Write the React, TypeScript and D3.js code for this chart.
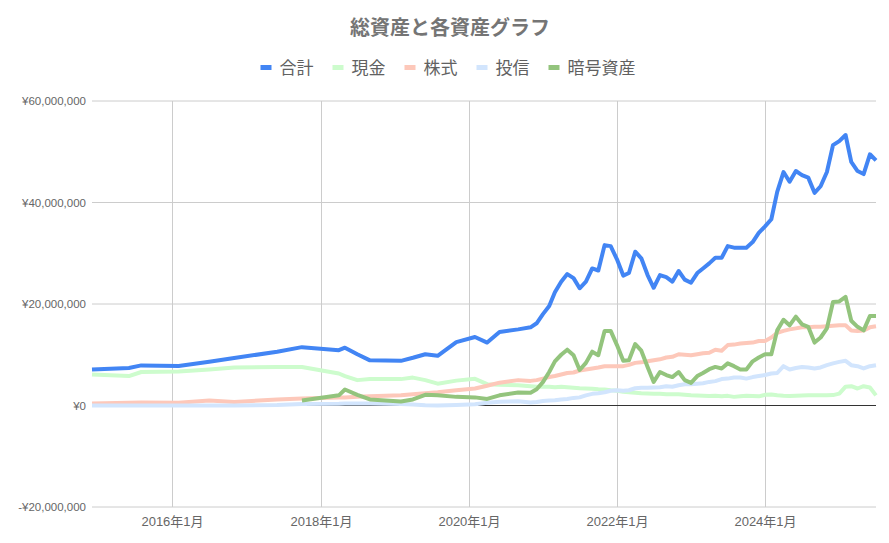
import React, { useEffect, useRef } from 'react';
import * as d3 from 'd3';

// months (sparse until late 2020, then monthly)
const months = [
  '2014-12', '2015-06', '2015-08', '2016-02', '2016-07', '2016-11', '2017-06', '2017-10',
  '2018-04', '2018-05', '2018-07', '2018-09', '2019-02', '2019-04', '2019-06', '2019-08',
  '2019-11', '2020-02', '2020-04', '2020-06', '2020-09', '2020-11', '2020-12',
  '2021-01', '2021-02', '2021-03', '2021-04', '2021-05', '2021-06', '2021-07', '2021-08', '2021-09', '2021-10', '2021-11', '2021-12',
  '2022-01', '2022-02', '2022-03', '2022-04', '2022-05', '2022-06', '2022-07', '2022-08', '2022-09', '2022-10', '2022-11', '2022-12',
  '2023-01', '2023-02', '2023-03', '2023-04', '2023-05', '2023-06', '2023-07', '2023-08', '2023-09', '2023-10', '2023-11', '2023-12',
  '2024-01', '2024-02', '2024-03', '2024-04', '2024-05', '2024-06', '2024-07', '2024-08', '2024-09', '2024-10', '2024-11', '2024-12',
  '2025-01', '2025-02', '2025-03', '2025-04', '2025-05', '2025-06', '2025-07',
];

// values in millions of yen
const total = [
  7.1, 7.4, 7.9, 7.8, 8.6, 9.35, 10.6, 11.5, 10.9, 11.4, 10.1, 8.9, 8.8, 9.4, 10.1, 9.8, 12.5, 13.5, 12.4, 14.5, 15.0, 15.4, 16.2,
  18.0, 19.6, 22.3, 24.4, 25.9, 25.1, 23.1, 24.4, 27.0, 26.6, 31.6, 31.4,
  28.8, 25.6, 26.1, 30.3, 29.0, 25.7, 23.2, 25.7, 25.3, 24.4, 26.5, 24.8,
  24.2, 26.1, 27.0, 28.0, 29.1, 29.1, 31.4, 31.1, 31.1, 31.1, 32.2, 34.0,
  35.3, 36.7, 42.1, 46.0, 44.1, 46.2, 45.4, 44.9, 41.9, 43.2, 46.0, 51.3,
  52.1, 53.3, 48.0, 46.2, 45.6, 49.5, 48.3,
];
const cash = [
  6.1, 5.8, 6.6, 6.7, 7.1, 7.5, 7.6, 7.6, 6.3, 5.8, 5.0, 5.2, 5.2, 5.5, 5.0, 4.3, 4.9, 5.25, 4.2, 4.1, 4.0, 3.8, 3.7,
  3.7, 3.7, 3.6, 3.7, 3.6, 3.5, 3.4, 3.35, 3.3, 3.2, 3.15, 3.0,
  2.9, 2.7, 2.6, 2.5, 2.4, 2.35, 2.3, 2.3, 2.2, 2.2, 2.2, 2.1,
  2.0, 1.95, 1.9, 1.85, 1.9, 1.8, 1.9, 1.7, 1.8, 1.9, 1.85, 1.8,
  2.1, 2.15, 2.0, 1.9, 1.85, 1.9, 1.95, 2.0, 2.0, 2.0, 2.0, 2.05,
  2.35, 3.7, 3.8, 3.35, 3.8, 3.55, 2.0,
];
const stocks = [
  0.4, 0.55, 0.6, 0.55, 1.0, 0.7, 1.2, 1.4, 1.6, 1.6, 1.7, 1.8, 2.0, 2.2, 2.4, 2.6, 3.0, 3.35, 3.9, 4.5, 5.0, 4.85, 5.0,
  5.3, 5.6, 5.8, 6.1, 6.4, 6.5, 6.9, 7.1, 7.3, 7.5, 7.75, 7.75,
  7.75, 7.75, 8.0, 8.4, 8.5, 8.7, 8.9, 9.1, 9.45, 9.6, 10.1, 10.0,
  9.9, 10.1, 10.3, 10.4, 11.0, 10.8, 11.9, 12.0, 12.2, 12.3, 12.4, 12.7,
  12.7, 13.4, 14.3, 14.7, 15.0, 15.2, 15.4, 15.4, 15.5, 15.5, 15.6, 15.7,
  15.8, 15.8, 14.8, 14.7, 14.8, 15.4, 15.6,
];
const funds = [
  0, 0, 0, 0, 0, 0, 0.1, 0.3, 0.35, 0.4, 0.4, 0.4, 0.3, 0.2, 0.05, 0, 0.1, 0.25, 0.55, 0.75, 0.85, 0.6, 0.7,
  0.9, 1.0, 1.05, 1.2, 1.3, 1.5, 1.6, 2.0, 2.3, 2.4, 2.6, 2.9,
  3.0, 2.9, 3.0, 3.4, 3.5, 3.5, 3.55, 3.6, 3.8, 3.7, 4.0, 4.2,
  4.2, 4.3, 4.4, 4.65, 4.8, 5.2, 5.3, 5.5, 5.5, 5.3, 5.6, 5.8,
  6.0, 6.3, 6.4, 7.75, 7.1, 7.4, 7.6, 7.5, 7.3, 7.5, 7.95, 8.3,
  8.6, 8.8, 7.95, 7.75, 7.3, 7.75, 7.95,
];
const crypto = [
  null, null, null, null, null, null, null, 1.0, 2.0, 3.15, 2.1, 1.2, 0.8, 1.2, 2.1, 2.0, 1.7, 1.6, 1.3, 2.0, 2.55, 2.5, 3.2,
  4.6, 6.6, 8.7, 10.0, 11.0, 9.9, 7.0, 8.4, 10.6, 9.9, 14.7, 14.7,
  11.9, 8.8, 8.9, 12.1, 10.8, 7.6, 4.65, 6.6, 6.0, 5.6, 6.6, 5.0,
  4.45, 5.8, 6.4, 7.15, 7.6, 7.3, 8.3, 7.75, 7.1, 7.1, 8.7, 9.45,
  10.1, 10.1, 14.8, 16.9, 15.8, 17.5, 16.0, 15.5, 12.4, 13.4, 15.2, 20.4,
  20.5, 21.4, 16.7, 15.5, 14.8, 17.65, 17.65,
];

const seriesNames = ['合計', '現金', '株式', '投信', '暗号資産'];
const seriesColors = ['#4285f4', '#cdfccd', '#fdc8ba', '#d2e5fd', '#93c47d'];
const seriesValues = [total, cash, stocks, funds, crypto];

const yTicks = [-20000000, 0, 20000000, 40000000, 60000000];
const xTickMonths = ['2016-01', '2018-01', '2020-01', '2022-01', '2024-01'];

const W = 889;
const H = 543;
const jp = '"Noto Sans CJK JP", "Liberation Sans", sans-serif';
const num = '"Liberation Sans", Arial, "Noto Sans CJK JP", sans-serif';

function App(): JSX.Element {
  const svgRef = useRef<SVGSVGElement>(null);

  useEffect(() => {
    const svg = d3.select(svgRef.current);
    svg.selectAll('*').remove();

    const parse = d3.timeParse('%Y-%m');
    const dates = months.map(m => parse(m) as Date);

    const xScale = d3.scaleTime()
      .domain([parse('2014-12') as Date, parse('2025-07') as Date])
      .range([92, 876]);
    const yScale = d3.scaleLinear()
      .domain([-20000000, 60000000])
      .range([507, 101]);

    // title
    svg.append('text')
      .attr('x', 450)
      .attr('y', 35)
      .attr('text-anchor', 'middle')
      .attr('font-family', jp)
      .attr('font-weight', 'bold')
      .attr('font-size', 20)
      .attr('fill', '#757575')
      .text('総資産と各資産グラフ');

    // legend, centered
    const fs = 17;
    const widths = seriesNames.map(n => 19 + n.length * fs);
    const legendW = d3.sum(widths) + 19 * (seriesNames.length - 1);
    let lx = 448 - legendW / 2;
    seriesNames.forEach((n, i) => {
      svg.append('rect')
        .attr('x', lx)
        .attr('y', 65)
        .attr('width', 11)
        .attr('height', 5)
        .attr('fill', seriesColors[i]);
      svg.append('text')
        .attr('x', lx + 19)
        .attr('y', 74)
        .attr('font-family', jp)
        .attr('font-size', fs)
        .attr('fill', '#616161')
        .text(n);
      lx += widths[i] + 19;
    });

    // horizontal gridlines + y labels
    const fmt = d3.format(',');
    yTicks.forEach(t => {
      svg.append('line')
        .attr('x1', 92).attr('x2', 876)
        .attr('y1', yScale(t)).attr('y2', yScale(t))
        .attr('stroke', t === 0 ? 'none' : '#cccccc')
        .attr('stroke-width', 1);
      svg.append('text')
        .attr('x', 86)
        .attr('y', yScale(t) + 4)
        .attr('text-anchor', 'end')
        .attr('font-family', num)
        .attr('font-size', 11.5)
        .attr('fill', '#666666')
        .text((t < 0 ? '-¥' : '¥') + fmt(Math.abs(t)));
    });

    // vertical gridlines + x labels
    xTickMonths.forEach(m => {
      const d = parse(m) as Date;
      const x = Math.round(xScale(d)) + 0.5;
      svg.append('line')
        .attr('x1', x).attr('x2', x)
        .attr('y1', 101).attr('y2', 507)
        .attr('stroke', '#cccccc')
        .attr('stroke-width', 1);
      svg.append('text')
        .attr('x', x)
        .attr('y', 526)
        .attr('text-anchor', 'middle')
        .attr('font-family', num)
        .attr('font-size', 13)
        .attr('fill', '#666666')
        .text(`${d.getFullYear()}年${d.getMonth() + 1}月`);
    });

    // zero baseline
    svg.append('line')
      .attr('x1', 92).attr('x2', 876)
      .attr('y1', yScale(0)).attr('y2', yScale(0))
      .attr('stroke', '#333333')
      .attr('stroke-width', 1);

    // lines
    seriesValues.forEach((vals, i) => {
      const pts = dates.map((d, j) => ({ date: d, v: vals[j] }));
      const line = d3.line<{ date: Date; v: number | null }>()
        .defined(p => p.v !== null)
        .x(p => xScale(p.date))
        .y(p => yScale((p.v as number) * 1000000));
      svg.append('path')
        .datum(pts)
        .attr('fill', 'none')
        .attr('stroke', seriesColors[i])
        .attr('stroke-width', 4)
        .attr('stroke-linejoin', 'round')
        .attr('d', line);
    });
  }, []);

  return (
    <div style={{ position: 'absolute', left: 0, top: 0 }}>
      <svg ref={svgRef} width={W} height={H} style={{ display: 'block', background: '#ffffff' }}></svg>
    </div>
  );
}

export default App;
